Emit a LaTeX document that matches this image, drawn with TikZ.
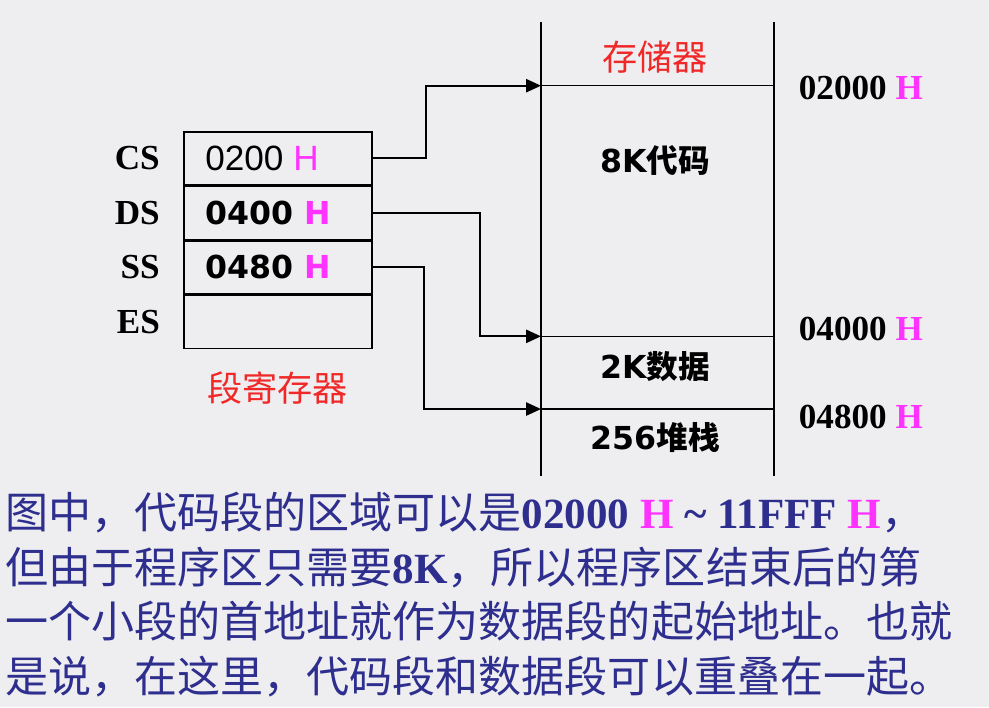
\documentclass[tikz,border=0pt]{standalone}
\usepackage{fontspec}
\setmainfont{Liberation Serif}
\setsansfont{DejaVu Sans}
\newfontfamily\arialfont{Liberation Sans}
\newfontfamily\cjk{Noto Sans CJK SC}
\usetikzlibrary{arrows.meta, positioning, calc}
\definecolor{pagegray}{HTML}{EEEEF1}
\definecolor{notered}{HTML}{F02828}
\definecolor{hexpink}{HTML}{FF33FF}
\definecolor{textblue}{HTML}{2E2E8E}
\newcommand{\hx}{\textcolor{hexpink}{H}}
\tikzset{
  arr/.style={-{Triangle[length=8.5pt, width=7.5pt]}, line width=1.1pt, black},
  regcell/.style={rectangle, draw=black, line width=0.9pt, minimum width=3.76cm, minimum height=1.06cm, inner sep=0pt},
  memseg/.style={rectangle, inner sep=0pt, minimum width=4.64cm},
  reglabel/.style={font=\bfseries\fontsize{20}{24}\selectfont, anchor=east},
  regval/.style={anchor=west, inner sep=0pt},
  segtext/.style={font=\sffamily\bfseries\fontsize{18}{22}\selectfont},
  addr/.style={font=\bfseries\fontsize{20}{24}\selectfont, anchor=west},
  redtitle/.style={text=notered, font=\cjk\fontsize{20}{24}\selectfont},
}
\begin{document}
\begin{tikzpicture}[x=0.02cm, y=-0.02cm]
  \useasboundingbox (0,0) rectangle (989,707);
  \fill[pagegray] (0,0) rectangle (989,707);

  % segment registers
  \node[regcell, anchor=north west] (cs) at (183,131) {};
  \node[regcell, anchor=north] (ds) at (cs.south) {};
  \node[regcell, anchor=north] (ss) at (ds.south) {};
  \node[regcell, anchor=north] (es) at (ss.south) {};
  \node[reglabel] (csl) at ($(cs.west)+(-17,0)$) {CS};
  \node[reglabel] (dsl) at ($(ds.west)+(-17,0)$) {DS};
  \node[reglabel] (ssl) at ($(ss.west)+(-17,0)$) {SS};
  \node[reglabel] (esl) at ($(es.west)+(-17,0)$) {ES};
  \node[regval] (csv) at ($(cs.west)+(22,0)$) {\arialfont\fontsize{20}{24}\selectfont 0200 \hx};
  \node[regval, segtext] (dsv) at ($(ds.west)+(22,0)$) {0400 \hx};
  \node[regval, segtext] (ssv) at ($(ss.west)+(22,0)$) {0480 \hx};
  \node[redtitle] (regname) at ($(es.south)+(0,39)$) {段寄存器};

  % memory
  \node[memseg, minimum height=1.26cm, anchor=north west] (memtop) at (541,22) {};
  \node[memseg, minimum height=5cm, anchor=north] (code) at (memtop.south) {};
  \node[memseg, minimum height=1.44cm, anchor=north] (data) at (code.south) {};
  \node[memseg, minimum height=1.32cm, anchor=north] (stack) at (data.south) {};
  \draw[line width=1.1pt] (memtop.north west) -- (stack.south west);
  \draw[line width=1.1pt] (memtop.north east) -- (stack.south east);
  \foreach \s in {code,data,stack} {
    \draw[line width=0.8pt] (\s.north west) -- (\s.north east);
  }
  \node[redtitle] (memname) at ($(memtop.center)+(-2,3)$) {存储器};
  \node[segtext] (codet) at ($(code.north)+(-2,75)$) {8K{\cjk 代码}};
  \node[segtext] (datat) at ($(data.center)+(-2,-6)$) {2K{\cjk 数据}};
  \node[segtext] (stackt) at ($(stack.center)+(-2,-5)$) {256{\cjk 堆栈}};

  % addresses
  \node[addr] (a1) at ($(code.north east)+(19,2)$) {02000 \hx};
  \node[addr] (a2) at ($(data.north east)+(19,-7)$) {04000 \hx};
  \node[addr] (a3) at ($(stack.north east)+(19,8)$) {04800 \hx};

  % register -> segment start
  \draw[arr] (cs.east) -- ++(53,0) |- (code.north west);
  \draw[arr] (ds.east) -- ++(107,0) |- (data.north west);
  \draw[arr] (ss.east) -- ++(51,0) |- (stack.north west);

  % note
  \node[anchor=north west, inner sep=0pt, align=left, text=textblue,
        font=\cjk\fontsize{24.5}{31}\selectfont] (note) at (5,492)
    {图中，代码段的区域可以是{\rmfamily\bfseries 02000 \hx{} \textasciitilde{} 11FFF \hx}，\\
     但由于程序区只需要{\rmfamily\bfseries 8K}，所以程序区结束后的第\\
     一个小段的首地址就作为数据段的起始地址。也就\\
     是说，在这里，代码段和数据段可以重叠在一起。};
\end{tikzpicture}
\end{document}
